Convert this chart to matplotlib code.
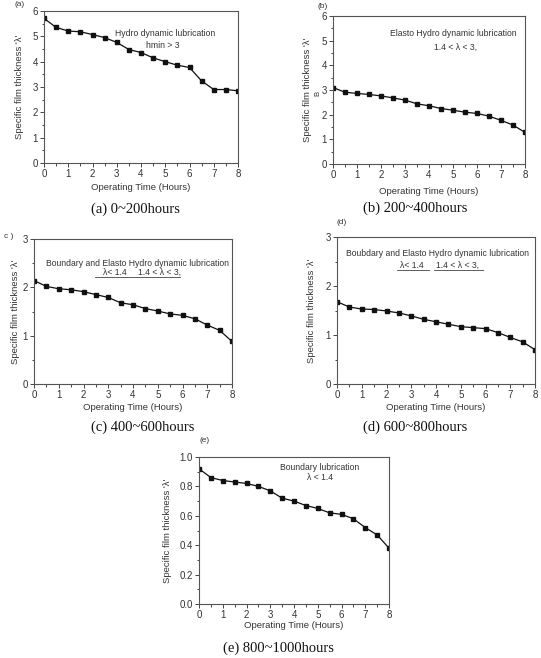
import matplotlib
matplotlib.use("Agg")
import matplotlib.pyplot as plt
from matplotlib.lines import Line2D
from matplotlib.ticker import MultipleLocator, AutoMinorLocator

plt.rcParams['font.family'] = ['Liberation Sans', 'DejaVu Sans']

W, H = 541, 658

hours = [0, 0.5, 1, 1.5, 2, 2.5, 3, 3.5, 4, 4.5, 5, 5.5, 6, 6.5, 7, 7.5, 8]

lam_a = [5.71, 5.35, 5.21, 5.18, 5.07, 4.95, 4.76, 4.48, 4.36, 4.15, 4.00, 3.86, 3.77, 3.24, 2.90, 2.90, 2.85]
lam_b = [3.10, 2.91, 2.86, 2.82, 2.76, 2.68, 2.59, 2.44, 2.36, 2.25, 2.18, 2.10, 2.05, 1.94, 1.77, 1.58, 1.28]
lam_c = [2.14, 2.02, 1.97, 1.95, 1.91, 1.85, 1.79, 1.68, 1.64, 1.56, 1.51, 1.45, 1.42, 1.35, 1.22, 1.11, 0.88]
lam_d = [1.68, 1.57, 1.53, 1.52, 1.49, 1.45, 1.39, 1.32, 1.27, 1.22, 1.17, 1.15, 1.13, 1.05, 0.95, 0.86, 0.70]
lam_e = [0.92, 0.86, 0.84, 0.83, 0.82, 0.80, 0.77, 0.72, 0.70, 0.67, 0.65, 0.62, 0.61, 0.58, 0.52, 0.47, 0.38]

captions = ["(a) 0~200hours", "(b) 200~400hours", "(c) 400~600hours",
            "(d) 600~800hours", "(e) 800~1000hours"]
tags = ["(a)", "(b)", "c )", "(d)", "(e)"]

TXT = '#333333'


def fx(x):
    return x / W


def fy(y):
    return 1 - y / H


fig = plt.figure(figsize=(W / 100, H / 100), dpi=100)


def panel(box, data, ymax, ystep, ylpx, xlpx):
    l, t, r, b = box
    ax = fig.add_axes([fx(l), fy(b), (r - l) / W, (b - t) / H])
    ax.plot(hours, data, color='#111111', lw=0.9, marker='s', ms=3.2)
    ax.set_xlim(0, 8)
    ax.set_ylim(0, ymax)
    ax.xaxis.set_major_locator(MultipleLocator(1))
    ax.xaxis.set_minor_locator(MultipleLocator(0.5))
    ax.yaxis.set_major_locator(MultipleLocator(ystep))
    ax.yaxis.set_minor_locator(AutoMinorLocator(2))
    ax.tick_params(which='both', direction='out', colors='#444444', labelcolor=TXT,
                   labelsize=7, width=0.7, pad=1.5)
    ax.tick_params(which='major', length=3)
    ax.tick_params(which='minor', length=1.8)
    for s in ax.spines.values():
        s.set_color('#555555')
        s.set_linewidth(0.8)
    ax.set_xlabel("Operating Time (Hours)", fontsize=6.8, color=TXT)
    ax.set_ylabel("Specific film thickness '\u03bb'", fontsize=6.8, color=TXT)
    ax.xaxis.set_label_coords(0.5, -(xlpx - b) / (b - t))
    ax.yaxis.set_label_coords(-(l - ylpx) / (r - l), 0.5)
    ax.xaxis.label.set_va('center')
    ax.yaxis.label.set_va('center')
    return ax


boxes = [(44, 11, 238, 163), (333, 16, 525, 164), (34, 239, 232, 384),
         (337, 237, 535, 384), (199, 457, 389, 604)]

ax_a = panel(boxes[0], lam_a, 6, 1, 19, 188)
ax_b = panel(boxes[1], lam_b, 6, 1, 308, 192)
ax_c = panel(boxes[2], lam_c, 3, 1, 16, 407)
ax_d = panel(boxes[3], lam_d, 3, 1, 312, 407)
ax_e = panel(boxes[4], lam_e, 1.0, 0.2, 168, 625)
ax_e.yaxis.set_major_formatter(matplotlib.ticker.FormatStrFormatter('%.1f'))

# captions and tags
cap_pos = [(135, 209), (415, 208), (143, 427), (415, 427), (278, 648)]
for c, (x, y) in zip(captions, cap_pos):
    fig.text(fx(x), fy(y), c, ha='center', va='center', fontsize=10.5,
             family='Liberation Serif', color='#111111')
tag_pos = [(20, 5), (323, 7), (9, 236), (342, 223), (205, 440)]
for tg, (x, y) in zip(tags, tag_pos):
    fig.text(fx(x), fy(y), tg, ha='center', va='center', fontsize=6, color=TXT)

# stray subscript next to panel (b) y label
fig.text(fx(318), fy(93), "B", rotation=90, ha='center', va='center', fontsize=5.5, color=TXT)


def note(x, y, s):
    fig.text(fx(x), fy(y), s, ha='center', va='center', fontsize=6.2, color=TXT)


def uline(x0, x1, y):
    fig.add_artist(Line2D([fx(x0), fx(x1)], [fy(y), fy(y)], color='#444444', lw=0.6))


note(165, 34, "Hydro dynamic lubrication")
note(163, 46, "hmin > 3")
note(453, 34, "Elasto Hydro dynamic lubrication")
note(455, 47, "1.4 < \u03bb < 3,")
note(137, 263, "Boundary and Elasto Hydro dynamic lubrication")
note(115, 272, "\u03bb< 1.4")
note(160, 272, "1.4 < \u03bb < 3,")
uline(95, 180, 277)
note(438, 254, "Boubdary and Elasto Hydro dynamic lubrication")
note(412, 265, "\u03bb< 1.4")
note(457, 265, "1.4 < \u03bb < 3,")
uline(397, 429, 270)
uline(434, 483, 270)
note(320, 467, "Boundary lubrication")
note(320, 478, "\u03bb < 1.4")

fig.savefig("out.png", dpi=100)
